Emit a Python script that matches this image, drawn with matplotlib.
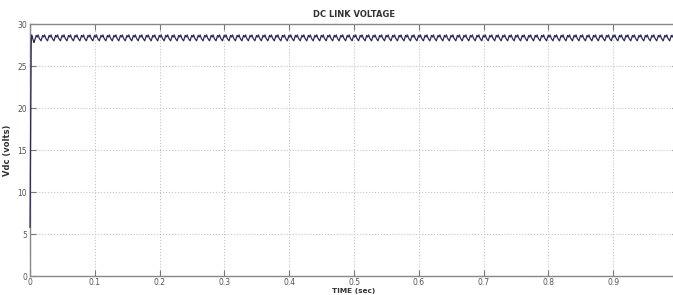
import numpy as np
import matplotlib
matplotlib.use('Agg')
import matplotlib.pyplot as plt

# start-up transient (time in sec, volts)
startup_t = [0.0, 0.0006, 0.0012, 0.0018, 0.0024, 0.003, 0.0045, 0.006]
startup_v = [5.8, 13.0, 22.0, 27.5, 28.7, 28.6, 28.2, 27.8]

# one ripple cycle (period 0.01 s)
ripple_period = 0.01
ripple_phase = [0.0, 0.0025, 0.004, 0.0055, 0.007, 0.0085]
ripple_v = [28.0, 28.65, 28.45, 28.7, 28.35, 28.15]

t_end = 1.0
xticks = [0, 0.1, 0.2, 0.3, 0.4, 0.5, 0.6, 0.7, 0.8, 0.9]
yticks = [0, 5, 10, 15, 20, 25, 30]

# build the trace: transient, then the ripple cycle repeated
t = list(startup_t)
v = list(startup_v)
n_cycles = int(round(t_end / ripple_period))
for k in range(n_cycles):
    for ph, val in zip(ripple_phase, ripple_v):
        tt = 0.007 + k * ripple_period + ph
        if tt <= t_end:
            t.append(tt)
            v.append(val)

fig = plt.figure(figsize=(6.73, 2.95), dpi=100, facecolor='white')
ax = fig.add_axes([0.0446, 0.0644, 0.963, 0.8542])
ax.plot(t, v, color='#2b2b58', lw=0.9, zorder=3, clip_on=False)

ax.set_xlim(0, 1.0)
ax.set_ylim(0, 30)
ax.set_xticks(xticks)
ax.set_xticklabels(['0', '0.1', '0.2', '0.3', '0.4', '0.5', '0.6', '0.7', '0.8', '0.9'])
ax.set_yticks(yticks)
ax.grid(True, linestyle=':', color='#c4c4c4', lw=0.8)
ax.tick_params(direction='in', length=4, width=0.8, colors='#777777',
               labelsize=5.5, labelcolor='#555555', pad=2, top=True, right=True)
ax.tick_params(axis='x', pad=1.5)
for s in ax.spines.values():
    s.set_color('#888888')
    s.set_linewidth(1.0)

ax.set_title('DC LINK VOLTAGE', fontsize=6, fontweight='bold', color='#333333', pad=5)
ax.set_xlabel('TIME (sec)', fontsize=5.3, fontweight='bold', color='#333333', va='top')
ax.xaxis.set_label_coords(0.5, -0.046)
ax.set_ylabel('Vdc (volts)', fontsize=6, fontweight='bold', color='#333333', labelpad=4)

plt.savefig('out.png', dpi=100)
plt.close('all')
